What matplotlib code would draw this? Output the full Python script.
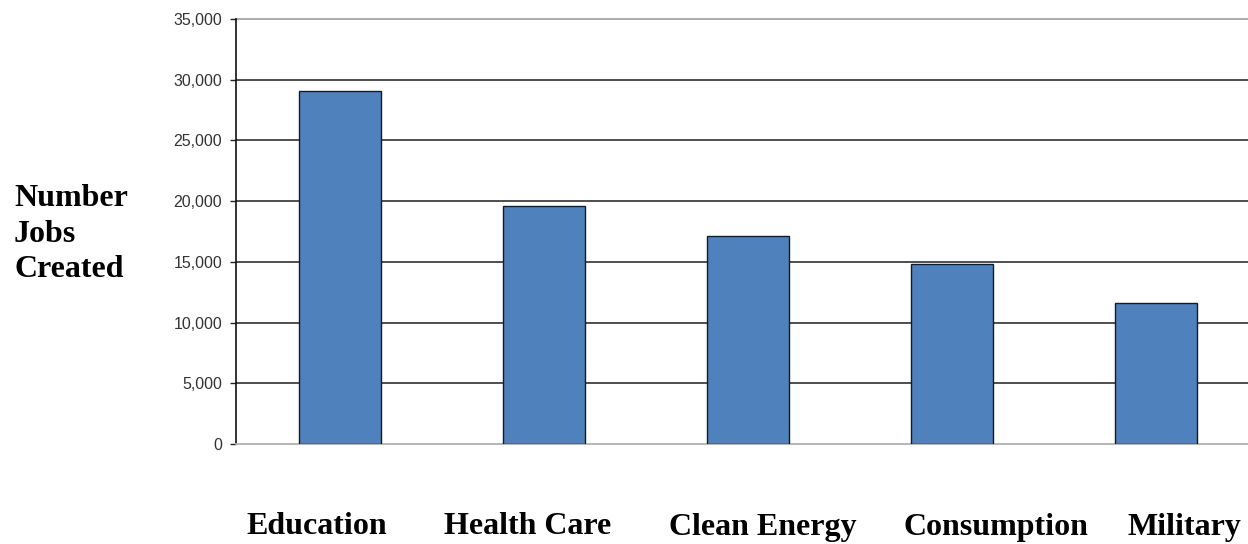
import matplotlib.pyplot as plt
from matplotlib.ticker import FuncFormatter

# jobs created per category
categories = ["Education", "Health Care", "Clean Energy", "Consumption", "Military"]
jobs = [29100, 19600, 17150, 14800, 11600]
y_ticks = [0, 5000, 10000, 15000, 20000, 25000, 30000, 35000]

# label centres along the bottom, in figure fraction
label_x = [0.254, 0.423, 0.611, 0.798, 0.949]

W, H = 1248, 544
fig = plt.figure(figsize=(W / 100, H / 100), dpi=100)
ax = fig.add_axes([236 / W, 1 - 444 / H, 1012 / W, (444 - 19) / H])

x = range(len(categories))
ax.bar([i + 0.01 for i in x], jobs, width=0.4, color="#4F81BD",
       edgecolor="#1a1a1a", linewidth=1.0, zorder=3)

ax.set_xlim(-0.5, 4.46)
ax.set_ylim(0, 35000)
ax.set_yticks(y_ticks)
ax.yaxis.set_major_formatter(FuncFormatter(lambda v, p: f"{int(v):,}"))
ax.tick_params(axis="y", direction="out", length=4, width=1, color="#222222",
               labelsize=11.5, labelcolor="#333333", pad=6)
for lab in ax.get_yticklabels():
    lab.set_fontfamily("Liberation Sans")
ax.set_xticks([])

# horizontal grid lines, top one lighter
for t in y_ticks[1:-1]:
    ax.axhline(t, color="#404040", linewidth=1.3, zorder=1)
ax.axhline(35000, color="#a6a6a6", linewidth=1.3, zorder=1, clip_on=False)

for side in ["top", "right"]:
    ax.spines[side].set_visible(False)
ax.spines["bottom"].set_color("#b0b0b0")
ax.spines["bottom"].set_linewidth(1.3)
ax.spines["left"].set_color("#111111")
ax.spines["left"].set_linewidth(1.2)

serif = dict(family="Liberation Serif", fontweight="bold", fontsize=23,
             color="black")
fig.text(14 / W, 1 - 234 / H, "Number\nJobs\nCreated", ha="left", va="center",
         linespacing=1.3, **serif)
for cx, name in zip(label_x, categories):
    fig.text(cx, 1 - 527 / H, name, ha="center", va="center", **serif)

fig.savefig("out.png", dpi=100)
